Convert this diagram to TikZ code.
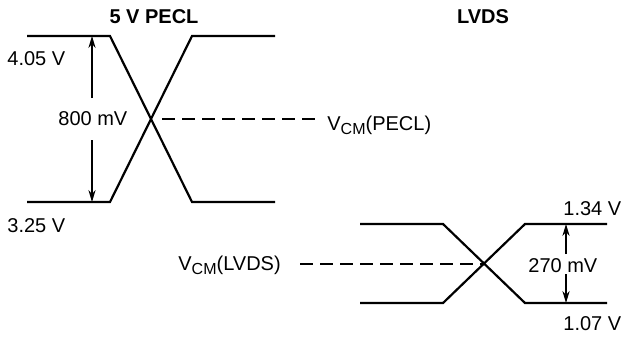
\documentclass[tikz,border=0pt]{standalone}
\usepackage{fontspec}
\setmainfont{Liberation Sans}
\usetikzlibrary{arrows.meta}
\newcommand{\mysubtxt}[1]{\raisebox{-0.45ex}{\fontsize{8}{8}\selectfont #1}}
\begin{document}
\begin{tikzpicture}[x=0.5pt,y=-0.5pt,
  wave/.style={line width=1.1pt, line join=miter},
  dimline/.style={line width=0.6pt, -{Stealth[length=6pt,width=3.6pt]}},
  cmline/.style={line width=1.1pt, dash pattern=on 6.5pt off 3.5pt},
  lbl/.style={font=\fontsize{10}{12}\selectfont, inner sep=0pt, anchor=base west},
  ttl/.style={font=\fontsize{10}{12}\selectfont\bfseries, inner sep=0pt}]
\useasboundingbox (0,0) rectangle (624,338);
% PECL waveform
\coordinate (pA) at (27,36);
\coordinate (pB) at (110,36);
\coordinate (pC) at (192,202);
\coordinate (pD) at (275,202);
\coordinate (pE) at (27,202);
\coordinate (pF) at (110,202);
\coordinate (pG) at (192,36);
\coordinate (pH) at (275,36);
\coordinate (pX) at (151,119);
\draw[wave] (pA) -- (pB) -- (pC) -- (pD);
\draw[wave] (pE) -- (pF) -- (pG) -- (pH);
% PECL swing arrow
\coordinate (pT) at (92,36);
\coordinate (pBt) at (92,202);
\coordinate (pa1) at (92,98);
\coordinate (pa2) at (92,140);
\draw[dimline] (pa1) -- (pT);
\draw[dimline] (pa2) -- (pBt);
\node[lbl] (m800) at (58,125) {800 mV};
\node[lbl] (v405) at (7,65) {4.05 V};
\node[lbl] (v325) at (7,232) {3.25 V};
\node[ttl] (tpecl) at (154,17) {5 V PECL};
% PECL common mode
\coordinate (pd1) at (162,119);
\coordinate (pd2) at (316,119);
\draw[cmline] (pd1) -- (pd2);
\node[lbl] (vcmp) at (327,130) {V\mysubtxt{CM}(PECL)};
% LVDS waveform
\coordinate (lA) at (360,224);
\coordinate (lB) at (443,224);
\coordinate (lC) at (525,303);
\coordinate (lD) at (607,303);
\coordinate (lE) at (360,303);
\coordinate (lF) at (443,303);
\coordinate (lG) at (525,224);
\coordinate (lH) at (607,224);
\coordinate (lX) at (484,264);
\draw[wave] (lA) -- (lB) -- (lC) -- (lD);
\draw[wave] (lE) -- (lF) -- (lG) -- (lH);
% LVDS swing arrow
\coordinate (lT) at (566,224);
\coordinate (lBt) at (566,303);
\coordinate (la1) at (566,254);
\coordinate (la2) at (566,274);
\draw[dimline] (la1) -- (lT);
\draw[dimline] (la2) -- (lBt);
\node[lbl] (m270) at (528,272) {270 mV};
\node[lbl] (v134) at (563,215) {1.34 V};
\node[lbl] (v107) at (563,330) {1.07 V};
\node[ttl] (tlvds) at (483,17) {LVDS};
% LVDS common mode
\node[lbl] (vcml) at (178,270) {V\mysubtxt{CM}(LVDS)};
\coordinate (ld1) at (300,264);
\draw[cmline] (ld1) -- (lX);
\end{tikzpicture}
\end{document}
